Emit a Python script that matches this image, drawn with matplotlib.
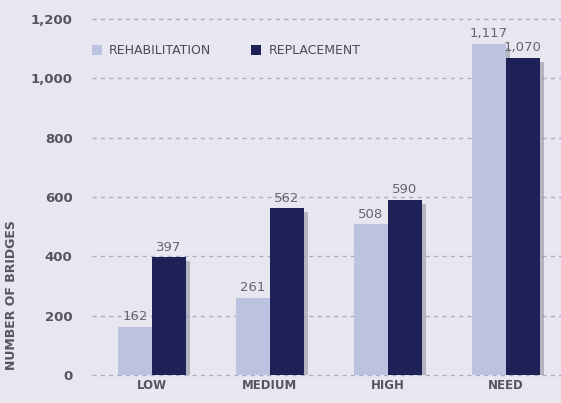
import matplotlib.pyplot as plt
import matplotlib.patheffects as pe
from matplotlib.patches import Patch
import numpy as np

categories = ['LOW', 'MEDIUM', 'HIGH', 'NEED']
rehabilitation = [162, 261, 508, 1117]
replacement = [397, 562, 590, 1070]
yticks = [0, 200, 400, 600, 800, 1000, 1200]

bg = '#e8e7f0'
light = '#bcc3e0'
dark = '#1e2157'
txt = '#555560'

plt.rcParams['font.family'] = ['DejaVu Sans']

fig = plt.figure(figsize=(5.61, 4.03), dpi=100, facecolor=bg)
ax = fig.add_axes([92 / 561, 28 / 403, 1 - 92 / 561, 356 / 403])
ax.set_facecolor(bg)

x = np.arange(len(categories))
w = 0.288
shadow = [pe.SimplePatchShadow(offset=(3, -3), shadow_rgbFace='#777788', alpha=0.45), pe.Normal()]
b1 = ax.bar(x - w / 2, rehabilitation, w, color=light, zorder=3, path_effects=shadow)
b2 = ax.bar(x + w / 2, replacement, w, color=dark, zorder=3, path_effects=shadow)

for rect, v in zip(list(b1) + list(b2), rehabilitation + replacement):
    ax.text(rect.get_x() + rect.get_width() / 2, v + 12, f'{v:,}',
            ha='center', va='bottom', fontsize=9.5, color='#666670', zorder=4)

ax.set_xlim(-0.51, 3.47)
ax.set_ylim(0, 1200)
ax.set_yticks(yticks)
ax.set_yticklabels([f'{t:,}' for t in yticks], fontweight='bold', fontsize=9.5, color=txt)
ax.set_xticks(x)
ax.set_xticklabels(categories, fontweight='bold', fontsize=8.5, color=txt)
ax.tick_params(axis='both', length=0)
ax.tick_params(axis='y', pad=14)
ax.tick_params(axis='x', pad=3)

ax.grid(axis='y', linestyle=(0, (3, 3)), color='#acacc8', linewidth=1, zorder=0)
for s in ax.spines.values():
    s.set_visible(False)
for gl in ax.get_ygridlines():
    gl.set_clip_on(False)

ax.set_ylabel('NUMBER OF BRIDGES', fontsize=9, fontweight='bold', color=txt)
ax.yaxis.set_label_coords(-0.158, 0.225)

handles = [Patch(facecolor=light, label='REHABILITATION'),
           Patch(facecolor=dark, label='REPLACEMENT')]
leg = ax.legend(handles=handles, ncol=2, loc='upper left', bbox_to_anchor=(-0.025, 0.96),
                frameon=False, fontsize=9, handlelength=0.8, handleheight=0.8,
                handletextpad=0.6, columnspacing=3.2)
for t in leg.get_texts():
    t.set_color('#4a4a55')

fig.savefig('out.png', dpi=100, facecolor=bg)
